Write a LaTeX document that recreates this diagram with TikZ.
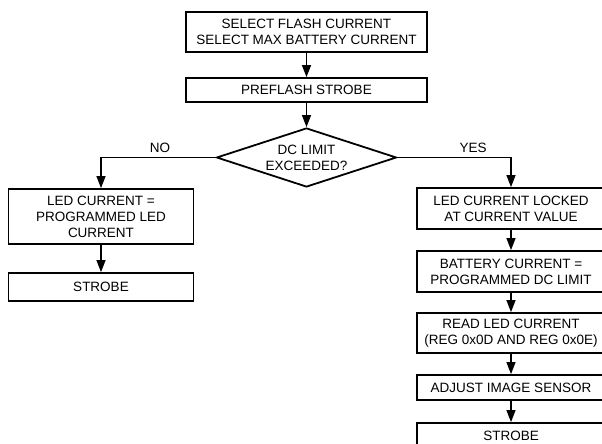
\documentclass[tikz,border=0pt]{standalone}
\usepackage{fontspec}
\setmainfont{Liberation Sans}
\usetikzlibrary{shapes.geometric,arrows.meta}
\begin{document}
\begin{tikzpicture}[x=1pt,y=-1pt,
  box/.style={draw,line width=1.8pt,align=center,inner sep=0pt,font=\fontsize{13.5}{16}\selectfont},
  dec/.style={draw,diamond,aspect=3,line width=1.8pt,align=center,inner sep=0pt,font=\fontsize{13.5}{16}\selectfont},
  arr/.style={line width=1.3pt,-{Triangle[length=12pt,width=9pt]}},
  lbl/.style={font=\fontsize{13.5}{16}\selectfont,inner sep=0pt}]
\useasboundingbox (0,0) rectangle (602,444);
\node[box,minimum width=241pt,minimum height=40pt] (top) at (306.5,32) {SELECT FLASH CURRENT\\SELECT MAX BATTERY CURRENT};
\node[box,minimum width=241pt,minimum height=24pt] (pre) at (306.5,90) {PREFLASH STROBE};
\node[dec,minimum width=180pt,minimum height=59pt] (dia) at (306.5,157.5) {DC LIMIT\\EXCEEDED?};
\node[box,minimum width=185pt,minimum height=55pt] (led) at (101,216.5) {LED CURRENT =\\PROGRAMMED LED\\CURRENT};
\node[box,minimum width=185pt,minimum height=28pt] (strl) at (101,287) {STROBE};
\node[box,minimum width=188pt,minimum height=41pt] (r1) at (511,208.5) {LED CURRENT LOCKED\\AT CURRENT VALUE};
\node[box,minimum width=188pt,minimum height=41pt] (r2) at (511,271.5) {BATTERY CURRENT =\\PROGRAMMED DC LIMIT};
\node[box,minimum width=188pt,minimum height=40pt] (r3) at (511,333) {READ LED CURRENT\\(REG 0x0D AND REG 0x0E)};
\node[box,minimum width=188pt,minimum height=25pt] (r4) at (511,387.5) {ADJUST IMAGE SENSOR};
\node[box,minimum width=188pt,minimum height=32pt,text depth=0pt] (r5) at (511,439) {\raisebox{6pt}{STROBE}};
\node[lbl] (no) at (160,148) {NO};
\node[lbl] (yes) at (473,148) {YES};
\draw[arr] (top) -- (pre);
\draw[arr] (pre) -- (dia);
\draw[arr] (dia.west) -| (led.north);
\draw[arr] (led) -- (strl);
\draw[arr] (dia.east) -| (r1.north);
\draw[arr] (r1) -- (r2);
\draw[arr] (r2) -- (r3);
\draw[arr] (r3) -- (r4);
\draw[arr] (r4) -- (r5);
\end{tikzpicture}
\end{document}
